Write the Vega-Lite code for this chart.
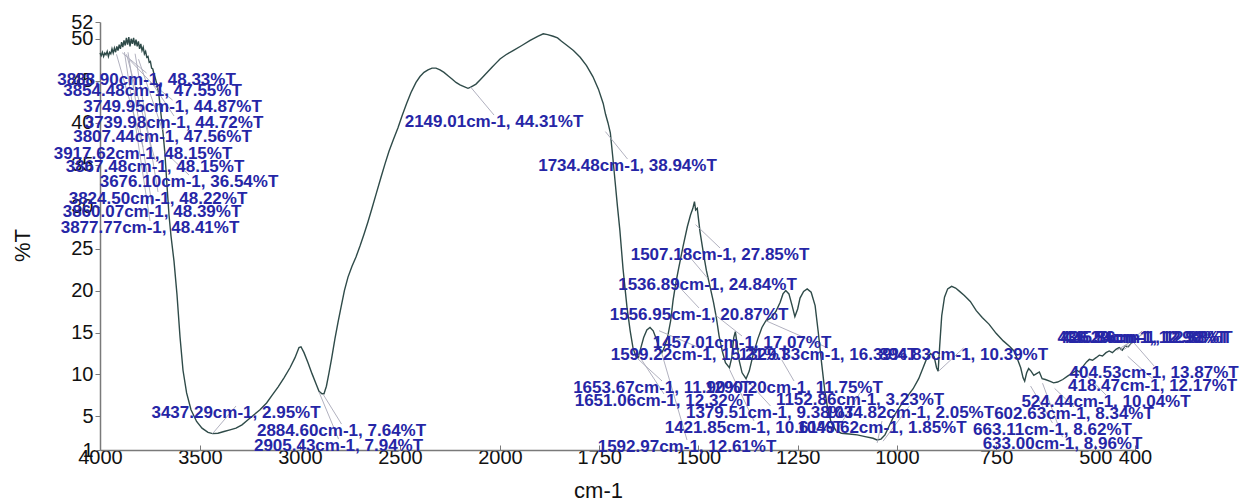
{
  "$schema": "https://vega.github.io/schema/vega-lite/v6.json",
  "width": 1035,
  "height": 428,
  "autosize": {"type": "none"},
  "padding": {"left": 100, "top": 22, "right": 113, "bottom": 51},
  "background": "white",
  "config": {
    "view": {"stroke": null},
    "font": "Liberation Sans",
    "axis": {"grid": false, "domainColor": "#7a7a7a", "tickColor": "#7a7a7a", "labelColor": "#111111", "titleColor": "#111111", "labelFont": "Liberation Sans", "titleFont": "Liberation Sans", "labelFontSize": 20, "titleFontSize": 22, "titleFontWeight": "normal", "domainWidth": 1.5, "labelOverlap": false, "labelBound": false, "labelFlush": false}
  },
  "resolve": {"axis": {"x": "independent", "y": "independent"}},
  "datasets": {
    "spectrum": [
      {"wn":4000,"t":48.3},{"wn":3994,"t":48.0},{"wn":3988,"t":48.4},{"wn":3982,"t":47.9},{"wn":3976,"t":48.3},{"wn":3970,"t":48.1},{"wn":3964,"t":48.5},{"wn":3958,"t":47.9},{"wn":3952,"t":48.4},{"wn":3946,"t":48.2},{"wn":3940,"t":48.8},{"wn":3934,"t":48.3},{"wn":3928,"t":48.9},{"wn":3922,"t":48.4},{"wn":3916,"t":49.1},{"wn":3910,"t":48.6},{"wn":3904,"t":49.3},{"wn":3898,"t":48.8},{"wn":3892,"t":49.6},{"wn":3886,"t":49.0},{"wn":3880,"t":49.8},{"wn":3874,"t":49.2},{"wn":3868,"t":50.1},{"wn":3862,"t":49.3},{"wn":3856,"t":50.2},{"wn":3850,"t":49.1},{"wn":3844,"t":50.0},{"wn":3838,"t":49.4},{"wn":3832,"t":50.1},{"wn":3826,"t":49.2},{"wn":3820,"t":49.9},{"wn":3814,"t":49.1},{"wn":3808,"t":49.7},{"wn":3802,"t":48.8},{"wn":3796,"t":49.4},{"wn":3790,"t":48.6},{"wn":3784,"t":49.0},{"wn":3778,"t":48.2},{"wn":3772,"t":48.5},{"wn":3766,"t":47.8},{"wn":3760,"t":47.9},{"wn":3754,"t":47.2},{"wn":3748,"t":47.3},{"wn":3742,"t":46.5},{"wn":3736,"t":46.4},{"wn":3730,"t":45.8},{"wn":3722,"t":45.2},{"wn":3715,"t":44.5},{"wn":3705,"t":43.2},{"wn":3695,"t":41.0},{"wn":3685,"t":38.8},{"wn":3676,"t":36.5},{"wn":3665,"t":32.5},{"wn":3655,"t":29.0},{"wn":3645,"t":26.5},{"wn":3630,"t":23.5},{"wn":3615,"t":19.5},{"wn":3600,"t":14.5},{"wn":3585,"t":10.5},{"wn":3567,"t":7.8},{"wn":3545,"t":5.8},{"wn":3517,"t":4.4},{"wn":3490,"t":3.6},{"wn":3460,"t":3.1},{"wn":3437,"t":2.95},{"wn":3410,"t":3.0},{"wn":3380,"t":3.2},{"wn":3350,"t":3.4},{"wn":3320,"t":3.6},{"wn":3290,"t":4.0},{"wn":3260,"t":4.6},{"wn":3230,"t":5.2},{"wn":3200,"t":5.8},{"wn":3167,"t":6.6},{"wn":3140,"t":7.5},{"wn":3110,"t":8.5},{"wn":3080,"t":9.6},{"wn":3050,"t":10.8},{"wn":3025,"t":12.0},{"wn":3005,"t":13.2},{"wn":2995,"t":13.3},{"wn":2980,"t":12.6},{"wn":2960,"t":11.4},{"wn":2940,"t":10.1},{"wn":2920,"t":8.9},{"wn":2905,"t":8.0},{"wn":2890,"t":7.7},{"wn":2880,"t":7.7},{"wn":2868,"t":8.6},{"wn":2855,"t":10.2},{"wn":2842,"t":11.9},{"wn":2825,"t":14.3},{"wn":2810,"t":16.2},{"wn":2795,"t":18.0},{"wn":2778,"t":20.0},{"wn":2760,"t":21.6},{"wn":2740,"t":22.9},{"wn":2720,"t":24.0},{"wn":2700,"t":25.3},{"wn":2680,"t":26.7},{"wn":2660,"t":28.2},{"wn":2640,"t":29.8},{"wn":2617,"t":31.7},{"wn":2595,"t":33.5},{"wn":2575,"t":35.1},{"wn":2555,"t":36.6},{"wn":2533,"t":38.0},{"wn":2510,"t":39.4},{"wn":2490,"t":40.8},{"wn":2467,"t":42.3},{"wn":2445,"t":43.6},{"wn":2420,"t":44.8},{"wn":2400,"t":45.5},{"wn":2380,"t":46.0},{"wn":2360,"t":46.3},{"wn":2340,"t":46.5},{"wn":2320,"t":46.5},{"wn":2300,"t":46.3},{"wn":2280,"t":46.0},{"wn":2260,"t":45.6},{"wn":2240,"t":45.2},{"wn":2220,"t":44.8},{"wn":2200,"t":44.5},{"wn":2180,"t":44.3},{"wn":2160,"t":44.1},{"wn":2149,"t":44.2},{"wn":2135,"t":44.4},{"wn":2120,"t":44.6},{"wn":2100,"t":45.1},{"wn":2080,"t":45.6},{"wn":2060,"t":46.1},{"wn":2040,"t":46.6},{"wn":2020,"t":47.1},{"wn":2000,"t":47.6},{"wn":1985,"t":48.1},{"wn":1967,"t":48.6},{"wn":1945,"t":49.2},{"wn":1924,"t":49.8},{"wn":1905,"t":50.3},{"wn":1891,"t":50.6},{"wn":1880,"t":50.5},{"wn":1866,"t":50.3},{"wn":1855,"t":50.1},{"wn":1845,"t":49.7},{"wn":1831,"t":49.2},{"wn":1815,"t":48.6},{"wn":1798,"t":47.8},{"wn":1782,"t":46.8},{"wn":1766,"t":45.5},{"wn":1752,"t":44.0},{"wn":1740,"t":42.3},{"wn":1734,"t":41.0},{"wn":1728,"t":40.0},{"wn":1722,"t":38.8},{"wn":1716,"t":36.0},{"wn":1710,"t":33.0},{"wn":1704,"t":30.0},{"wn":1698,"t":27.2},{"wn":1690,"t":22.6},{"wn":1680,"t":18.0},{"wn":1672,"t":15.2},{"wn":1665,"t":13.2},{"wn":1658,"t":12.2},{"wn":1652,"t":12.0},{"wn":1645,"t":13.2},{"wn":1638,"t":14.4},{"wn":1630,"t":15.3},{"wn":1622,"t":15.6},{"wn":1614,"t":15.2},{"wn":1606,"t":14.2},{"wn":1598,"t":13.0},{"wn":1592,"t":12.6},{"wn":1586,"t":13.2},{"wn":1578,"t":14.4},{"wn":1570,"t":16.4},{"wn":1564,"t":18.8},{"wn":1557,"t":20.9},{"wn":1550,"t":22.6},{"wn":1539,"t":25.2},{"wn":1528,"t":27.6},{"wn":1520,"t":29.0},{"wn":1514,"t":29.8},{"wn":1510,"t":30.6},{"wn":1507,"t":29.6},{"wn":1503,"t":29.8},{"wn":1496,"t":27.0},{"wn":1488,"t":24.6},{"wn":1480,"t":22.4},{"wn":1470,"t":20.3},{"wn":1462,"t":18.6},{"wn":1455,"t":16.8},{"wn":1448,"t":14.6},{"wn":1440,"t":12.8},{"wn":1432,"t":11.4},{"wn":1422,"t":10.8},{"wn":1416,"t":12.0},{"wn":1411,"t":14.4},{"wn":1407,"t":15.1},{"wn":1403,"t":13.8},{"wn":1397,"t":11.6},{"wn":1390,"t":10.2},{"wn":1380,"t":9.5},{"wn":1372,"t":10.4},{"wn":1362,"t":12.4},{"wn":1350,"t":14.3},{"wn":1340,"t":15.6},{"wn":1330,"t":16.4},{"wn":1318,"t":16.7},{"wn":1305,"t":17.5},{"wn":1294,"t":18.6},{"wn":1287,"t":19.6},{"wn":1280,"t":20.0},{"wn":1272,"t":19.6},{"wn":1264,"t":18.2},{"wn":1257,"t":16.9},{"wn":1250,"t":17.8},{"wn":1244,"t":19.1},{"wn":1235,"t":19.9},{"wn":1226,"t":20.2},{"wn":1216,"t":19.8},{"wn":1206,"t":18.2},{"wn":1198,"t":15.0},{"wn":1190,"t":11.5},{"wn":1182,"t":8.2},{"wn":1174,"t":5.8},{"wn":1165,"t":4.2},{"wn":1153,"t":3.3},{"wn":1140,"t":3.0},{"wn":1120,"t":2.9},{"wn":1100,"t":2.8},{"wn":1080,"t":2.6},{"wn":1060,"t":2.4},{"wn":1050,"t":2.2},{"wn":1040,"t":2.3},{"wn":1030,"t":2.8},{"wn":1020,"t":3.8},{"wn":1008,"t":5.0},{"wn":992,"t":6.2},{"wn":975,"t":7.3},{"wn":959,"t":8.3},{"wn":945,"t":9.5},{"wn":934,"t":10.8},{"wn":924,"t":12.0},{"wn":915,"t":12.5},{"wn":906,"t":12.1},{"wn":900,"t":10.8},{"wn":896,"t":10.4},{"wn":892,"t":13.5},{"wn":887,"t":17.0},{"wn":880,"t":19.2},{"wn":872,"t":20.2},{"wn":862,"t":20.5},{"wn":852,"t":20.3},{"wn":842,"t":19.9},{"wn":830,"t":19.4},{"wn":815,"t":18.7},{"wn":800,"t":17.6},{"wn":785,"t":16.8},{"wn":768,"t":16.0},{"wn":750,"t":14.9},{"wn":732,"t":14.0},{"wn":715,"t":13.3},{"wn":705,"t":12.8},{"wn":696,"t":11.8},{"wn":688,"t":10.8},{"wn":682,"t":9.6},{"wn":678,"t":9.2},{"wn":673,"t":10.2},{"wn":668,"t":10.7},{"wn":662,"t":10.4},{"wn":655,"t":9.9},{"wn":648,"t":10.1},{"wn":641,"t":10.3},{"wn":634,"t":9.5},{"wn":626,"t":9.4},{"wn":615,"t":9.2},{"wn":605,"t":9.0},{"wn":595,"t":9.1},{"wn":582,"t":9.4},{"wn":570,"t":9.8},{"wn":557,"t":10.2},{"wn":547,"t":10.5},{"wn":540,"t":10.3},{"wn":532,"t":10.9},{"wn":522,"t":11.5},{"wn":515,"t":11.8},{"wn":507,"t":11.7},{"wn":498,"t":12.0},{"wn":490,"t":12.3},{"wn":482,"t":12.2},{"wn":473,"t":12.6},{"wn":465,"t":12.8},{"wn":457,"t":12.6},{"wn":448,"t":13.0},{"wn":440,"t":13.2},{"wn":432,"t":12.9},{"wn":425,"t":13.4},{"wn":417,"t":13.3},{"wn":410,"t":13.7},{"wn":404,"t":13.9}
    ],
    "labels": [
      {"label":"3888.90cm-1, 48.33%T","pwn":3888.90,"pt":48.33,"lx":3767.5,"ly":45.09},
      {"label":"3854.48cm-1, 47.55%T","pwn":3854.48,"pt":47.55,"lx":3737.5,"ly":43.78},
      {"label":"3749.95cm-1, 44.87%T","pwn":3749.95,"pt":44.87,"lx":3637.5,"ly":41.87},
      {"label":"3739.98cm-1, 44.72%T","pwn":3739.98,"pt":44.72,"lx":3630,"ly":39.97},
      {"label":"3807.44cm-1, 47.56%T","pwn":3807.44,"pt":47.56,"lx":3687.5,"ly":38.30},
      {"label":"3917.62cm-1, 48.15%T","pwn":3917.62,"pt":48.15,"lx":3785,"ly":36.27},
      {"label":"3867.48cm-1, 48.15%T","pwn":3867.48,"pt":48.15,"lx":3725,"ly":34.72},
      {"label":"3676.10cm-1, 36.54%T","pwn":3676.10,"pt":36.54,"lx":3555,"ly":32.93},
      {"label":"3824.50cm-1, 48.22%T","pwn":3824.50,"pt":48.22,"lx":3710,"ly":30.91},
      {"label":"3860.07cm-1, 48.39%T","pwn":3860.07,"pt":48.39,"lx":3740,"ly":29.36},
      {"label":"3877.77cm-1, 48.41%T","pwn":3877.77,"pt":48.41,"lx":3750,"ly":27.45},
      {"label":"2149.01cm-1, 44.31%T","pwn":2149.01,"pt":44.31,"lx":2030,"ly":40.08},
      {"label":"1734.48cm-1, 38.94%T","pwn":1734.48,"pt":38.94,"lx":1678.7,"ly":34.84},
      {"label":"1507.18cm-1, 27.85%T","pwn":1507.18,"pt":27.85,"lx":1445.7,"ly":24.24},
      {"label":"1536.89cm-1, 24.84%T","pwn":1536.89,"pt":24.84,"lx":1477.2,"ly":20.66},
      {"label":"1556.95cm-1, 20.87%T","pwn":1556.95,"pt":20.87,"lx":1498.6,"ly":17.09},
      {"label":"1457.01cm-1, 17.07%T","pwn":1457.01,"pt":17.07,"lx":1390.2,"ly":13.75},
      {"label":"1599.22cm-1, 15.21%T","pwn":1599.22,"pt":15.21,"lx":1496.1,"ly":12.32},
      {"label":"1329.33cm-1, 16.39%T","pwn":1329.33,"pt":16.39,"lx":1173.5,"ly":12.32},
      {"label":"894.83cm-1, 10.39%T","pwn":894.83,"pt":10.39,"lx":832.1,"ly":12.32},
      {"label":"1653.67cm-1, 11.90%T","pwn":1653.67,"pt":11.90,"lx":1591.8,"ly":8.39},
      {"label":"1290.20cm-1, 11.75%T","pwn":1290.20,"pt":11.75,"lx":1259.2,"ly":8.39},
      {"label":"1651.06cm-1, 12.32%T","pwn":1651.06,"pt":12.32,"lx":1586.8,"ly":6.84},
      {"label":"1152.86cm-1, 3.23%T","pwn":1152.86,"pt":3.23,"lx":1092.9,"ly":6.96},
      {"label":"1379.51cm-1, 9.38%T","pwn":1379.51,"pt":9.38,"lx":1318.4,"ly":5.41},
      {"label":"1034.82cm-1, 2.05%T","pwn":1034.82,"pt":2.05,"lx":968.2,"ly":5.41},
      {"label":"1421.85cm-1, 10.61%T","pwn":1421.85,"pt":10.61,"lx":1360,"ly":3.62},
      {"label":"1049.62cm-1, 1.85%T","pwn":1049.62,"pt":1.85,"lx":1037.5,"ly":3.62},
      {"label":"1592.97cm-1, 12.61%T","pwn":1592.97,"pt":12.61,"lx":1528.8,"ly":1.36},
      {"label":"426.54cm-1, 12.98%T","pwn":426.54,"pt":12.98,"lx":374.5,"ly":14.35},
      {"label":"445.86cm-1, 12.88%T","pwn":445.86,"pt":12.88,"lx":367,"ly":14.35},
      {"label":"436.29cm-1, 12.90%T","pwn":436.29,"pt":12.90,"lx":382,"ly":14.35},
      {"label":"404.53cm-1, 13.87%T","pwn":404.53,"pt":13.87,"lx":352,"ly":10.18},
      {"label":"418.47cm-1, 12.17%T","pwn":418.47,"pt":12.17,"lx":355.7,"ly":8.63},
      {"label":"524.44cm-1, 10.04%T","pwn":524.44,"pt":10.04,"lx":473.1,"ly":6.72},
      {"label":"602.63cm-1, 8.34%T","pwn":602.63,"pt":8.34,"lx":553.7,"ly":5.29},
      {"label":"663.11cm-1, 8.62%T","pwn":663.11,"pt":8.62,"lx":607.9,"ly":3.38},
      {"label":"633.00cm-1, 8.96%T","pwn":633.00,"pt":8.96,"lx":582.7,"ly":1.71},
      {"label":"3437.29cm-1, 2.95%T","pwn":3437.29,"pt":2.95,"lx":3320,"ly":5.41},
      {"label":"2884.60cm-1, 7.64%T","pwn":2884.60,"pt":7.64,"lx":2792.5,"ly":3.26},
      {"label":"2905.43cm-1, 7.94%T","pwn":2905.43,"pt":7.94,"lx":2807.5,"ly":1.48}
    ]
  },
  "layer": [
    {
      "data": {"name": "spectrum"},
      "mark": {"type": "line", "color": "#2f4b49", "strokeWidth": 1.4, "interpolate": "linear"},
      "encoding": {
        "x": {
          "field": "wn", "type": "quantitative", "title": "cm-1",
          "scale": {"type": "linear", "domain": [4000, 2000, 400], "range": [0, 400, 1035], "zero": false, "nice": false},
          "axis": {"values": [4000, 3500, 3000, 2500, 2000, 1750, 1500, 1250, 1000, 750, 500, 400], "format": "d", "tickSize": -5, "labelPadding": 2, "labelOverlap": false, "labelBound": false, "labelFlush": false, "titleX": 498, "titleY": 40, "titleBaseline": "middle", "titleAlign": "center", "titleFontSize": 22}
        },
        "y": {
          "field": "t", "type": "quantitative", "title": "%T",
          "scale": {"domain": [1, 52], "zero": false, "nice": false},
          "axis": {"values": [1, 5, 10, 15, 20, 25, 30, 35, 40, 45, 50, 52], "format": "d", "tickSize": 5, "labelPadding": 2, "labelOverlap": false, "labelFlush": false, "labelBound": false, "titleAngle": -90, "titleX": -78, "titleY": 223, "titleAlign": "center", "titleBaseline": "middle", "titleFontSize": 22}
        }
      }
    },
    {
      "data": {"name": "labels"},
      "mark": {"type": "rule", "color": "#a8a8b8", "strokeWidth": 0.9, "y2Offset": -7},
      "encoding": {
        "x": {"field": "pwn", "type": "quantitative", "axis": null},
        "y": {"field": "pt", "type": "quantitative", "axis": null},
        "x2": {"field": "lx"},
        "y2": {"field": "ly"}
      }
    },
    {
      "data": {"name": "labels"},
      "mark": {"type": "text", "color": "#2626a6", "fontSize": 17, "fontWeight": "bold", "font": "Liberation Sans", "align": "center", "baseline": "middle"},
      "encoding": {
        "x": {"field": "lx", "type": "quantitative", "axis": null},
        "y": {"field": "ly", "type": "quantitative", "axis": null},
        "text": {"field": "label"}
      }
    }
  ]
}
